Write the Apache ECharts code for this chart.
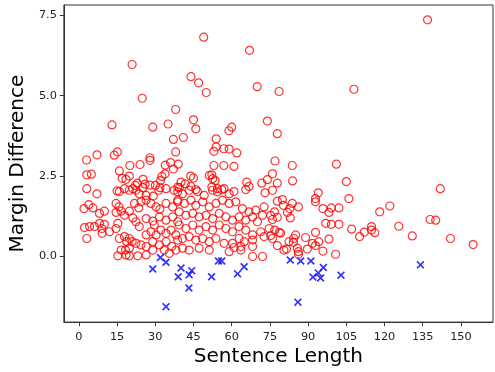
<!DOCTYPE html>
<html>
<head>
<meta charset="utf-8">
<script src="https://cdn.jsdelivr.net/npm/echarts@6/dist/echarts.min.js"></script>
<style>html,body{margin:0;padding:0;background:#fff;}#c{width:495px;height:372px;}</style>
</head>
<body>
<div id="c"></div>
<script>
// Tick values
const xTicks = [0, 15, 30, 45, 60, 75, 90, 105, 120, 135, 150];
const yTicks = [0, 2.5, 5, 7.5];
const xLabel = 'Sentence Length';
const yLabel = 'Margin Difference';

// Red hollow circles: [sentence length, margin difference]
const redPoints = [
[136.9,7.36],[49.0,6.82],[67.0,6.41],[20.9,5.97],[44.0,5.59],[47.0,5.40],[50.0,5.10],[70.0,5.28],[78.6,5.13],[108.0,5.20],
[24.9,4.92],[38.0,4.57],[13.0,4.09],[45.0,4.25],[45.9,3.97],[29.0,4.02],[35.0,4.12],[60.0,4.02],[58.9,3.91],[74.0,4.21],
[77.9,3.82],[37.1,3.64],[41.0,3.70],[53.9,3.66],[53.9,3.41],[53.0,3.27],[56.9,3.35],[59.0,3.34],[62.0,3.22],[38.0,3.25],
[3.0,3.00],[7.1,3.16],[13.9,3.15],[15.1,3.25],[27.9,3.07],[27.9,2.99],[77.0,2.97],[20.0,2.83],[24.0,2.86],[33.9,2.84],
[36.0,2.92],[39.0,2.87],[53.0,2.83],[56.9,2.83],[60.9,2.80],[83.8,2.83],[101.1,2.87],[15.9,2.66],[3.1,2.54],[4.9,2.56],
[17.0,2.43],[18.5,2.40],[19.8,2.50],[25.2,2.40],[32.6,2.49],[33.8,2.57],[32.0,2.36],[37.1,2.72],[43.9,2.50],[45.0,2.44],
[51.2,2.52],[52.2,2.54],[52.5,2.42],[53.5,2.36],[76.0,2.57],[77.9,2.28],[74.0,2.39],[71.8,2.28],[83.9,2.35],[105.0,2.33],
[141.9,2.11],[3.1,2.11],[22.2,2.21],[23.0,2.28],[26.0,2.25],[27.9,2.22],[30.0,2.21],[31.8,2.14],[21.2,2.11],[19.8,2.06],
[25.1,2.14],[15.0,2.04],[15.9,2.02],[7.1,1.95],[34.2,2.11],[37.4,2.06],[39.4,2.14],[40.1,2.31],[41.8,2.26],[44.0,2.18],
[45.9,2.08],[38.8,2.16],[52.2,2.16],[54.4,2.11],[56.1,2.08],[65.9,2.31],[66.8,2.18],[65.5,2.08],[76.0,2.06],[73.1,1.98],
[94.0,1.98],[92.9,1.80],[92.9,1.70],[106.0,1.80],[95.8,1.49],[98.2,1.37],[99.1,1.51],[102.1,1.51],[83.8,1.65],[86.2,1.54],
[82.8,1.49],[83.0,1.20],[81.9,1.37],[96.9,1.03],[99.1,1.00],[102.1,1.00],[107.1,0.85],[110.2,0.62],[112.1,0.76],[114.9,0.93],
[114.9,0.82],[116.2,0.74],[118.1,1.39],[122.1,1.57],[125.6,0.94],[130.9,0.64],[137.9,1.15],[140.1,1.13],[145.9,0.56],[154.8,0.37],
[85.1,0.67],[84.4,0.56],[82.5,0.46],[89.0,0.59],[92.9,0.75],[98.2,0.54],[94.2,0.46],[91.7,0.41],[92.9,0.34],[89.7,0.23],
[85.8,0.26],[86.2,0.15],[86.2,0.07],[95.8,0.17],[100.8,0.07],[77.9,1.72],[79.9,1.77],[80.3,1.59],[76.8,1.39],[77.9,1.22],
[76.0,1.15],[76.9,0.82],[78.7,0.75],[75.3,0.65],[84.2,0.44],[81.5,0.23],[80.5,0.20],[77.9,0.34],[17.9,2.11],[22.4,2.06],
[23.7,1.95],[26.4,1.90],[29.2,1.88],[31.3,2.06],[38.8,2.01],[2.0,1.49],[3.9,1.61],[5.5,1.51],[8.1,1.34],[10.0,1.41],
[14.6,1.65],[15.7,1.54],[16.6,1.41],[14.6,1.37],[17.9,1.28],[19.8,1.41],[21.8,1.65],[23.5,1.51],[24.4,1.70],[26.4,1.75],
[28.3,1.65],[30.3,1.54],[31.8,1.47],[34.2,1.65],[36.8,1.54],[38.8,1.75],[2.2,0.90],[4.2,0.93],[6.1,0.93],[8.1,1.03],
[9.0,0.87],[10.0,1.00],[12.0,0.77],[3.1,0.56],[9.1,0.72],[14.6,0.87],[15.3,1.03],[15.9,0.56],[17.9,0.62],[18.8,0.46],
[19.8,0.56],[20.9,0.46],[16.6,0.20],[18.3,0.20],[19.8,0.26],[18.5,0.05],[15.3,0.02],[19.8,0.02],[23.1,0.02],[26.4,0.05],
[21.2,1.20],[22.4,1.08],[23.7,0.93],[26.4,1.18],[29.0,1.10],[29.6,0.98],[31.6,1.23],[34.2,1.13],[36.8,1.23],[38.8,1.08],
[26.4,0.67],[28.3,0.77],[30.3,0.67],[32.2,0.82],[34.2,0.72],[36.2,0.82],[38.1,0.67],[22.4,0.41],[24.4,0.36],[26.4,0.31],
[29.0,0.46],[31.6,0.36],[34.2,0.46],[36.5,0.31],[38.8,0.51],[29.0,0.20],[33.5,0.20],[35.5,0.10],[38.1,0.20],[40.7,1.95],
[43.3,2.06],[46.6,2.02],[49.2,1.90],[52.5,2.06],[54.4,2.01],[57.0,2.11],[59.0,1.95],[60.9,2.02],[38.8,1.70],[41.4,1.65],
[44.0,1.75],[45.9,1.59],[48.6,1.70],[51.2,1.54],[53.8,1.65],[56.4,1.75],[59.0,1.65],[61.6,1.70],[64.2,1.49],[66.8,1.39],
[69.4,1.44],[72.7,1.54],[72.1,1.28],[75.3,1.28],[39.4,1.39],[42.0,1.28],[44.7,1.34],[47.2,1.23],[49.9,1.28],[52.5,1.18],
[55.1,1.34],[57.7,1.23],[60.3,1.13],[62.9,1.23],[65.5,1.13],[68.2,1.23],[70.1,1.08],[39.4,0.98],[42.0,0.87],[44.7,0.98],
[47.2,0.82],[49.9,0.93],[52.5,0.82],[55.1,0.98],[57.7,0.87],[60.3,0.77],[62.9,0.93],[65.5,0.82],[68.2,0.67],[71.4,0.77],
[74.7,0.87],[79.2,0.72],[40.7,0.56],[43.3,0.62],[45.9,0.51],[48.6,0.56],[51.2,0.46],[53.8,0.56],[57.0,0.41],[60.3,0.41],
[62.9,0.56],[64.9,0.46],[68.2,0.51],[72.7,0.62],[76.0,0.56],[40.7,0.26],[43.3,0.20],[47.2,0.26],[51.2,0.20],[59.0,0.15],
[60.9,0.28],[63.6,0.31],[68.2,0.31],[72.1,0.00],[68.2,0.00],[63.6,0.20]
];

// Blue crosses: [sentence length, margin difference]
const bluePoints = [
[29.0,-0.39],[32.0,-0.03],[34.2,-0.18],[34.2,-1.56],[39.0,-0.63],[40.1,-0.36],[43.3,-0.57],[44.3,-0.44],
[43.2,-0.98],[52.1,-0.63],[54.8,-0.14],[56.1,-0.14],[62.3,-0.54],[64.9,-0.32],[83.0,-0.11],[87.1,-0.14],
[91.1,-0.14],[86.0,-1.42],[91.9,-0.64],[94.0,-0.51],[94.9,-0.67],[96.0,-0.34],[102.9,-0.58],[134.1,-0.26]
];

const crossPath = 'path://M0,1.5L1.5,0L5,3.5L8.5,0L10,1.5L6.5,5L10,8.5L8.5,10L5,6.5L1.5,10L0,8.5L3.5,5Z';
const font = 'DejaVu Sans';
const axisColor = '#333';

const chart = echarts.init(document.getElementById('c'), null, {renderer: 'canvas'});
chart.setOption({
  animation: false,
  backgroundColor: '#fff',
  grid: {left: 63, right: 2, top: 5, bottom: 47.5, show: true, borderColor: axisColor, borderWidth: 1, containLabel: false},
  xAxis: {
    type: 'value', min: -5.9, max: 162.6,
    axisLine: {show: true, onZero: false, lineStyle: {color: axisColor, width: 1}},
    axisTick: {show: true, inside: false, length: 4, customValues: xTicks, lineStyle: {color: axisColor}},
    axisLabel: {customValues: xTicks, fontSize: 11.3, color: '#222', fontFamily: font, margin: 9},
    splitLine: {show: false},
    name: xLabel, nameLocation: 'middle', nameGap: 24,
    nameTextStyle: {fontSize: 20, fontFamily: font, color: '#000'}
  },
  yAxis: {
    type: 'value', min: -2.04, max: 7.82,
    axisLine: {show: true, onZero: false, lineStyle: {color: axisColor, width: 1}},
    axisTick: {show: true, inside: false, length: 4, customValues: yTicks, lineStyle: {color: axisColor}},
    axisLabel: {customValues: yTicks, fontSize: 11.3, color: '#222', fontFamily: font, margin: 7,
      formatter: v => Number(v).toFixed(1)},
    splitLine: {show: false},
    name: yLabel, nameLocation: 'middle', nameGap: 31, nameRotate: 90,
    nameTextStyle: {fontSize: 20, fontFamily: font, color: '#000'}
  },
  series: [
    {
      type: 'scatter', data: redPoints, symbol: 'circle', symbolSize: 8,
      itemStyle: {color: 'rgba(0,0,0,0)', borderColor: '#ff0000', borderWidth: 1.2},
      emphasis: {disabled: true}
    },
    {
      type: 'scatter', data: bluePoints, symbol: crossPath, symbolSize: 8,
      itemStyle: {color: '#0000ff'},
      emphasis: {disabled: true}
    }
  ]
});
</script>
</body>
</html>
